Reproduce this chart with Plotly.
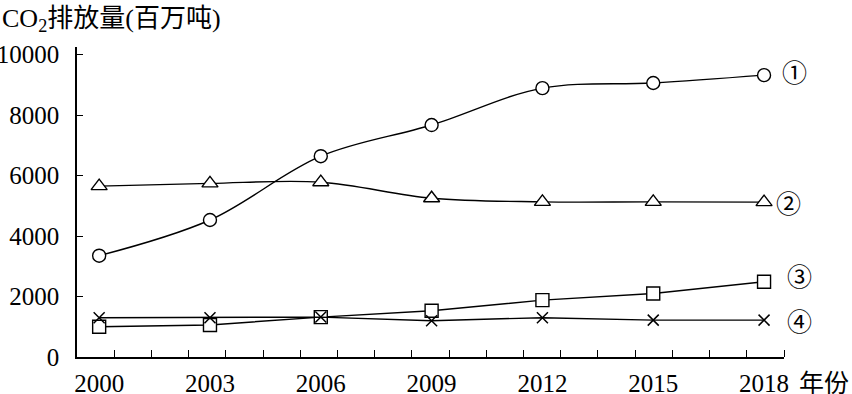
import plotly.graph_objects as go

years = [2000, 2003, 2006, 2009, 2012, 2015, 2018]
s1 = [3350, 4530, 6640, 7670, 8890, 9060, 9320]   # ① circles
s2 = [5650, 5740, 5780, 5250, 5130, 5130, 5120]   # ② triangles
s3 = [1000, 1060, 1320, 1530, 1880, 2100, 2490]   # ③ squares
s4 = [1300, 1300, 1320, 1200, 1300, 1220, 1220]   # ④ crosses
x_ticklabels = ["2000", "2003", "2006", "2009", "2012", "2015", "2018"]
y_ticks = [0, 2000, 4000, 6000, 8000, 10000]
series_labels = ["①", "②", "③", "④"]

FONT = "Times New Roman, Liberation Serif, DejaVu Serif, Noto Sans CJK SC, serif"
X0, X1 = 1999.4, 2018.54
PL, PR, PT, PB = 77, 784, 47, 357  # plot area in pixels

fig = go.Figure()

def add(y, symbol, size, shape):
    fig.add_trace(go.Scatter(
        x=years, y=y, mode="lines+markers",
        line=dict(color="black", width=1.4, shape=shape),
        marker=dict(symbol=symbol, size=size, color="white",
                    line=dict(color="black", width=1.4)),
        cliponaxis=False, showlegend=False))

add(s1, "circle", 13, "spline")
add(s2, "triangle-up", 14, "spline")
add(s3, "square", 13, "linear")
fig.add_trace(go.Scatter(
    x=years, y=s4, mode="lines+markers",
    line=dict(color="black", width=1.4),
    marker=dict(symbol="x-thin", size=11, color="black",
                line=dict(color="black", width=1.5)),
    cliponaxis=False, showlegend=False))

step = (X1 - X0) / 19
minor_vals = [X0 + k * step for k in range(1, 20)]

fig.update_xaxes(
    range=[X0, X1], tickvals=years, ticktext=x_ticklabels, ticks="",
    showline=True, linecolor="black", linewidth=1.6, showgrid=False,
    zeroline=False, tickfont=dict(family=FONT, size=25, color="black"),
    ticklabelstandoff=3, automargin=False,
    minor=dict(tickvals=minor_vals, ticks="inside", ticklen=7,
               tickcolor="black", tickwidth=1.3, showgrid=False))
fig.update_yaxes(
    range=[0, 10250], tickvals=y_ticks, tickformat="d", ticks="inside", ticklen=6,
    tickcolor="black", tickwidth=1.3,
    showline=True, linecolor="black", linewidth=1.6, showgrid=False,
    zeroline=False, tickfont=dict(family=FONT, size=25, color="black"),
    ticklabelstandoff=11, automargin=False)

W, H = PR - PL, PB - PT
def px(xp):
    return (xp - PL) / W
def py(yp):
    return (PB - yp) / H

ann = []
ann.append(dict(text="CO<sub>2</sub>排放量(百万吨)", xref="paper", yref="paper",
                x=px(0), y=py(2), xanchor="left", yanchor="top",
                showarrow=False, font=dict(family=FONT, size=26, color="black")))
ann.append(dict(text="年份", xref="paper", yref="paper",
                x=px(851), y=py(383), xanchor="right",
                yanchor="middle", showarrow=False,
                font=dict(family=FONT, size=25, color="black")))
label_pos = [(794, 71), (789, 202), (800, 275), (800, 320)]
for t, (lx, ly) in zip(series_labels, label_pos):
    ann.append(dict(text=t, x=px(lx), y=py(ly), xref="paper", yref="paper",
                    showarrow=False, xanchor="center", yanchor="middle",
                    font=dict(family="Noto Sans CJK SC, DejaVu Sans", size=25,
                              color="black")))

fig.update_layout(
    width=852, height=394, margin=dict(l=PL, r=852 - PR, t=PT, b=394 - PB),
    paper_bgcolor="white", plot_bgcolor="white", annotations=ann)

fig.write_html("out.html", config={"displayModeBar": False},
               post_script="document.body.style.margin='0';document.body.style.overflow='hidden';")
